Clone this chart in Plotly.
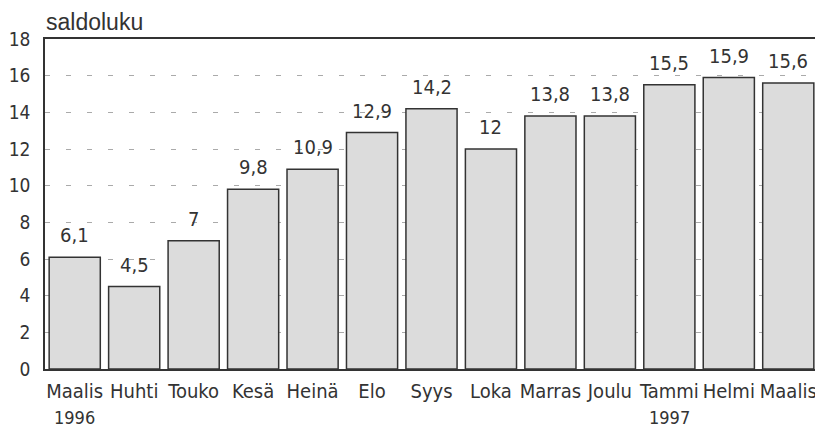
import plotly.graph_objects as go

months = ["Maalis", "Huhti", "Touko", "Kesä", "Heinä", "Elo", "Syys",
          "Loka", "Marras", "Joulu", "Tammi", "Helmi", "Maalis"]
years = ["1996", "", "", "", "", "", "", "", "", "", "1997", "", ""]
values = [6.1, 4.5, 7.0, 9.8, 10.9, 12.9, 14.2, 12.0, 13.8, 13.8, 15.5, 15.9, 15.6]
value_labels = ["6,1", "4,5", "7", "9,8", "10,9", "12,9", "14,2", "12", "13,8", "13,8", "15,5", "15,9", "15,6"]
y_ticks = [0, 2, 4, 6, 8, 10, 12, 14, 16, 18]

xpos = list(range(len(months)))
cond = "DejaVu Sans Condensed, Roboto, sans-serif"
ink = "#333333"

fig = go.Figure()
fig.add_trace(go.Bar(
    x=xpos, y=values,
    marker=dict(color="#dcdcdc", line=dict(color=ink, width=1.5)),
    hoverinfo="skip",
))

for xi, v, t in zip(xpos, values, value_labels):
    fig.add_annotation(x=xi, y=v, text=t, showarrow=False, yanchor="bottom",
                       yshift=8, font=dict(family=cond, size=20, color=ink))

for xi, yr in zip(xpos, years):
    if yr:
        fig.add_annotation(x=xi, xref="x", y=0, yref="paper", text=yr, showarrow=False,
                           yanchor="top", yshift=-37, borderpad=0,
                           font=dict(family=cond, size=18, color=ink))

fig.add_annotation(xref="paper", yref="paper", x=0.0, y=1.0, xanchor="left",
                   yanchor="bottom", yshift=2, xshift=-1, text="saldoluku", showarrow=False,
                   font=dict(family="Liberation Sans, Arial, sans-serif", size=23, color=ink))

fig.update_layout(
    width=815, height=422,
    margin=dict(l=37, r=5, t=31, b=61, autoexpand=False),
    paper_bgcolor="white", plot_bgcolor="white",
    bargap=0.14, showlegend=False,
    font=dict(family=cond, color=ink),
)
fig.update_xaxes(
    range=[-0.5, len(months) - 0.5], automargin=False,
    tickvals=xpos, ticktext=months, tickangle=0,
    tickfont=dict(family=cond, size=20, color=ink),
    showline=True, linecolor=ink, linewidth=1.5, mirror=True,
    showgrid=False, ticks="", ticklabelstandoff=3,
)
fig.update_yaxes(
    range=[0, 18], tickvals=y_ticks, automargin=False,
    tickfont=dict(family=cond, size=19, color=ink),
    showline=True, linecolor=ink, linewidth=1.5, mirror=True,
    showgrid=True, gridcolor="#aaaaaa", gridwidth=1, griddash="5px,16px",
    zeroline=False, ticks="", ticklabelstandoff=9,
)

fig.write_html("out.html")
